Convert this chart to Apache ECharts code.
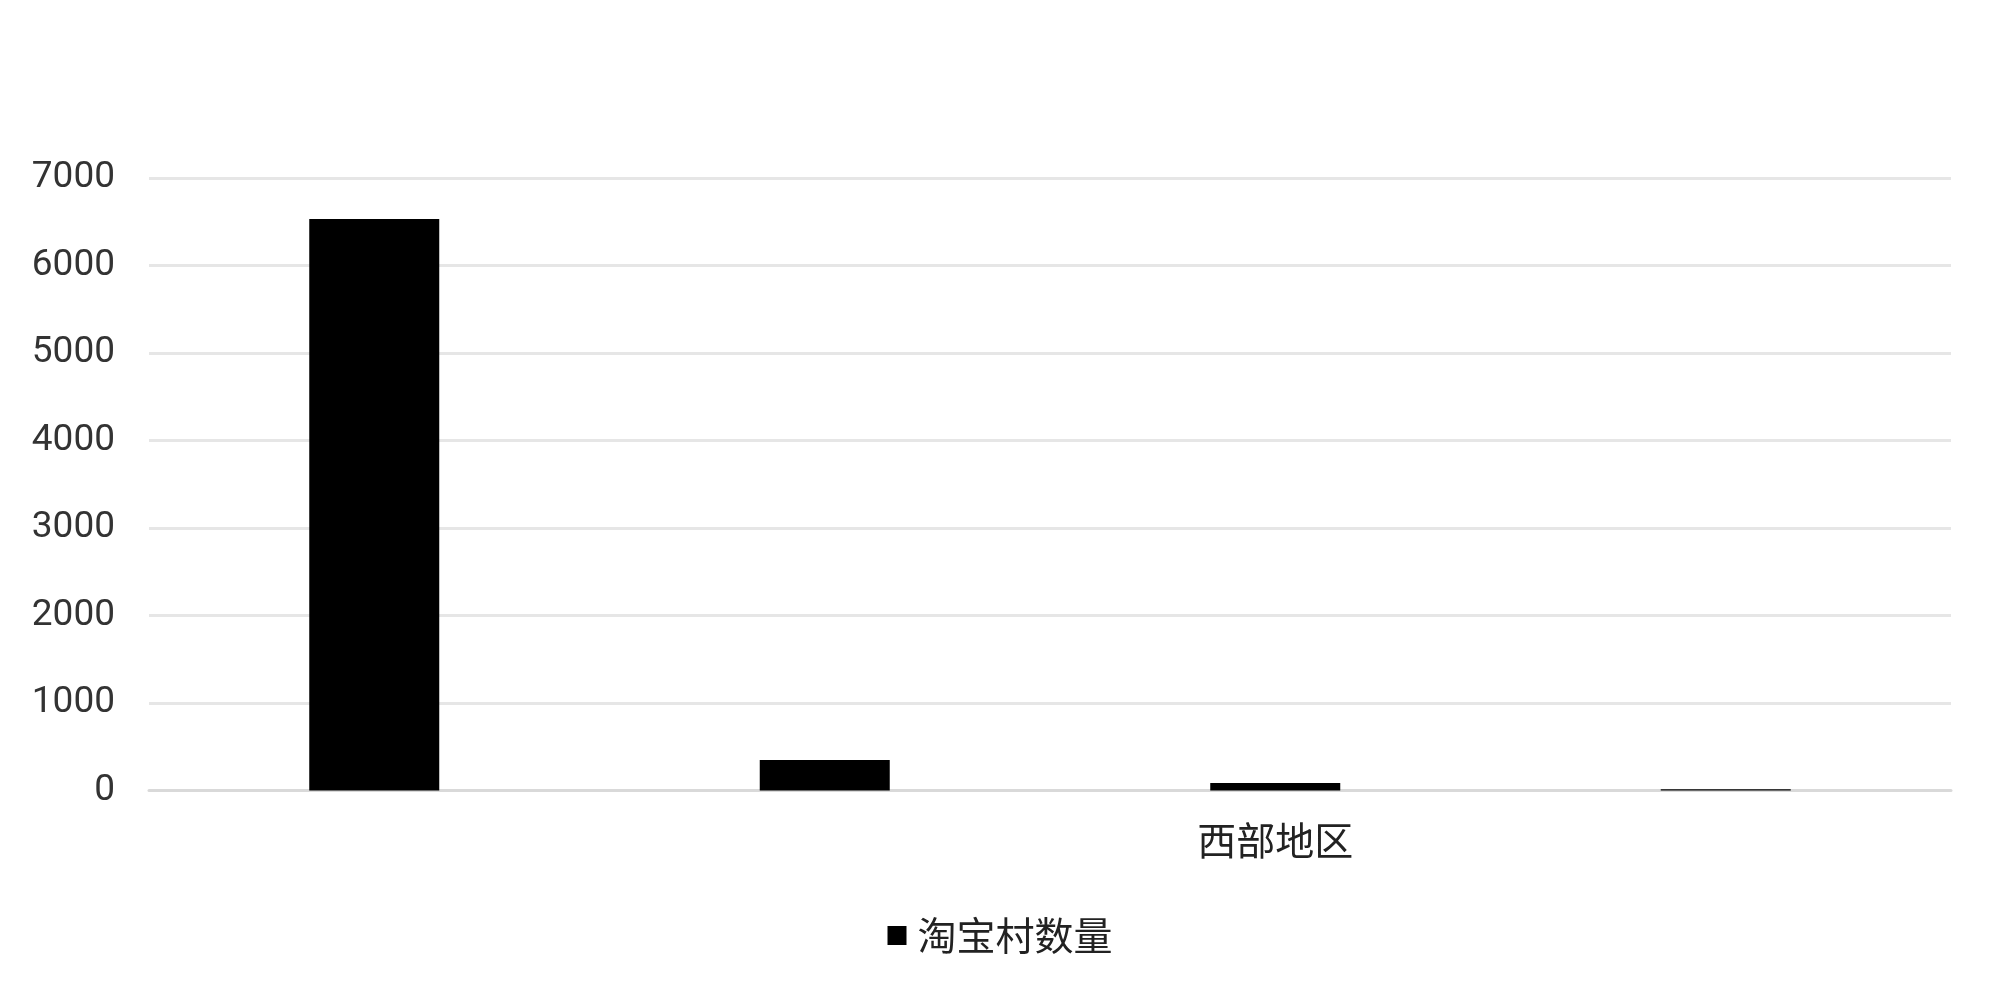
<!DOCTYPE html>
<html>
<head>
<meta charset="utf-8">
<script src="https://cdn.jsdelivr.net/npm/echarts@6/dist/echarts.min.js"></script>
<style>
html,body{margin:0;padding:0;background:#fff;}
#chart{width:2000px;height:995px;}
</style>
</head>
<body>
<div id="chart"></div>
<script>
// Data
const categories = ['东部地区', '中部地区', '西部地区', '东北地区'];
const visibleCategoryLabels = ['西部地区'];
const seriesName = '淘宝村数量';
const values = [6532, 350, 86, 15];
const yTicks = [0, 1000, 2000, 3000, 4000, 5000, 6000, 7000];

const chart = echarts.init(document.getElementById('chart'));
chart.setOption({
  backgroundColor: '#ffffff',
  animation: false,
  grid: { left: 149, right: 49, top: 178, bottom: 204.5, containLabel: false },
  legend: {
    data: [seriesName],
    top: 911,
    left: 'center',
    icon: 'rect',
    itemWidth: 19,
    itemHeight: 19,
    itemGap: 10,
    textStyle: { fontSize: 39, color: '#222', fontFamily: '"Noto Sans CJK SC", sans-serif', padding: [0, 0, 0, 6] }
  },
  xAxis: {
    type: 'category',
    data: categories,
    axisLine: { show: true, lineStyle: { color: '#d9d9d9', width: 3 } },
    axisTick: { show: false },
    axisLabel: {
      margin: 30,
      fontSize: 39,
      fontFamily: '"Noto Sans CJK SC", sans-serif',
      color: function (value) {
        return visibleCategoryLabels.indexOf(value) >= 0 ? '#222' : 'rgba(255,255,255,0)';
      }
    }
  },
  yAxis: {
    type: 'value',
    min: yTicks[0],
    max: yTicks[yTicks.length - 1],
    interval: yTicks[1] - yTicks[0],
    axisLine: { show: false },
    axisTick: { show: false },
    splitLine: { show: true, lineStyle: { color: '#e6e6e6', width: 3 } },
    axisLabel: {
      margin: 34,
      fontSize: 37,
      color: '#333',
      fontFamily: 'Roboto, "Liberation Sans", sans-serif',
      formatter: function (v) { return String(v); }
    }
  },
  series: [{
    name: seriesName,
    type: 'bar',
    data: values,
    barWidth: 130,
    itemStyle: { color: '#000000' }
  }]
});
</script>
</body>
</html>
